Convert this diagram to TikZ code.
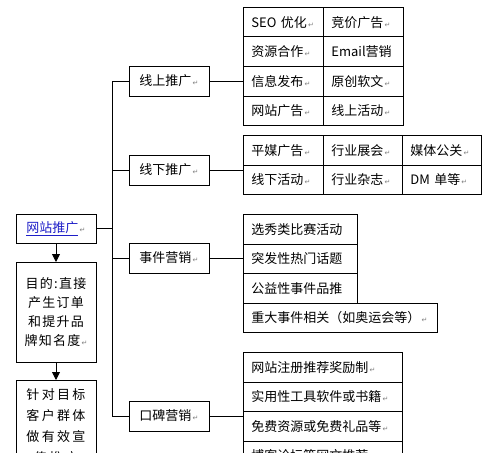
\documentclass[tikz,border=0pt]{standalone}
\usepackage{fontspec}
\usetikzlibrary{arrows.meta}
\setmainfont{Noto Sans CJK SC}
\newfontfamily\widefont[LetterSpace=10]{Noto Sans CJK SC}
\newfontfamily\widerfont[LetterSpace=18]{Noto Sans CJK SC}
\newfontfamily\retfont{DejaVu Sans}
\newcommand{\retmark}{{\retfont\fontsize{7}{7}\selectfont\color{gray}\,↵}}
\definecolor{linkblue}{RGB}{30,30,200}

\tikzset{
	box/.style = {draw, line width=0.9pt, minimum width=80pt, minimum height=30pt, inner sep=0pt},
	cell/.style = {draw, line width=0.9pt, minimum height=29.5pt, inner xsep=8pt, inner ysep=0pt, anchor=north west, align=left},
	arr/.style = {-{Triangle[length=8pt,width=8pt]}, line width=0.9pt},
	link/.style = {line width=0.9pt}
}

\begin{document}
\begin{tikzpicture}[x=1pt, y=-1pt, font=\fontsize{13}{15}\selectfont]
		\clip (0,0) rectangle (500,452);
		\fill[white] (0,0) rectangle (500,452);

		% left column
		\node[box, minimum height=29pt] (root) at (56,228.5) {\textcolor{linkblue}{\underline{网站推广}}\retmark};
		\node[box, minimum height=100pt, anchor=north, align=center, font=\widefont\fontsize{13}{19}\selectfont] (goal) at (56,262)
			{目的:直接\\产生订单\\和提升品\\牌知名度\retmark};
		\node[box, anchor=north, align=center, inner ysep=8pt, font=\widerfont\fontsize{13}{21}\selectfont] (target) at (56,380)
			{针对目标\\客户群体\\做有效宣\\传推广};
		\draw[arr] (root.south) -- (goal.north);
		\draw[arr] (goal.south) -- (target.north);

		% second level
		\node[box] (online) at (169,81) {线上推广\retmark};
		\node[box] (offline) at (169,170) {线下推广\retmark};
		\node[box] (event) at (169,258) {事件营销\retmark};
		\node[box] (wom) at (169,416) {口碑营销\retmark};

		\coordinate (trunk-top) at (112,81);
		\coordinate (trunk-bot) at (112,416);
		\draw[link] (trunk-top) -- (trunk-bot);
		\draw[link] (root.east) -- (root.east -| trunk-top);
		\foreach \n in {online, offline, event, wom}
			\draw[link] (\n.west) -- (\n.west -| trunk-top);

		% 线上推广
		\foreach \ta/\tb [count=\i from 0] in {SEO 优化\retmark/竞价广告\retmark, 资源合作\retmark/Email营销,
				信息发布\retmark/原创软文\retmark, 网站广告\retmark/线上活动\retmark} {
			\node[cell, text width=64pt] (on-\i-a) at (243,7+29.5*\i) {\ta};
			\node[cell, text width=64pt] (on-\i-b) at (323,7+29.5*\i) {\tb};
		}
		\draw[link] (online.east) -- (online.east -| on-0-a.west);

		% 线下推广
		\foreach \ta/\tb/\tc [count=\i from 0] in {平媒广告\retmark/行业展会\retmark/媒体公关\retmark,
				线下活动\retmark/行业杂志\retmark/DM 单等\retmark} {
			\node[cell, text width=64pt] (off-\i-a) at (243,135+29.5*\i) {\ta};
			\node[cell, text width=63pt] (off-\i-b) at (323,135+29.5*\i) {\tb};
			\node[cell, text width=63pt] (off-\i-c) at (402,135+29.5*\i) {\tc};
		}
		\draw[link] (offline.east) -- (offline.east -| off-0-a.west);

		% 事件营销
		\foreach \t [count=\i from 0] in {选秀类比赛活动, 突发性热门话题, 公益性事件品推} {
			\node[cell, text width=98pt] (ev-\i) at (243,214+29.5*\i) {\t};
		}
		\node[cell, text width=178pt] (ev-3) at (243,302.5) {重大事件相关（如奥运会等）\retmark};
		\draw[link] (event.east) -- (event.east -| ev-0.west);

		% 口碑营销
		\foreach \t [count=\i from 0] in {网站注册推荐奖励制\retmark, 实用性工具软件或书籍\retmark,
				免费资源或免费礼品等\retmark, 博客论坛等网文推荐\retmark} {
			\node[cell, text width=143pt] (wm-\i) at (243,352+29.5*\i) {\t};
		}
		\draw[link] (wom.east) -- (wom.east -| wm-0.west);
	\end{tikzpicture}
\end{document}
